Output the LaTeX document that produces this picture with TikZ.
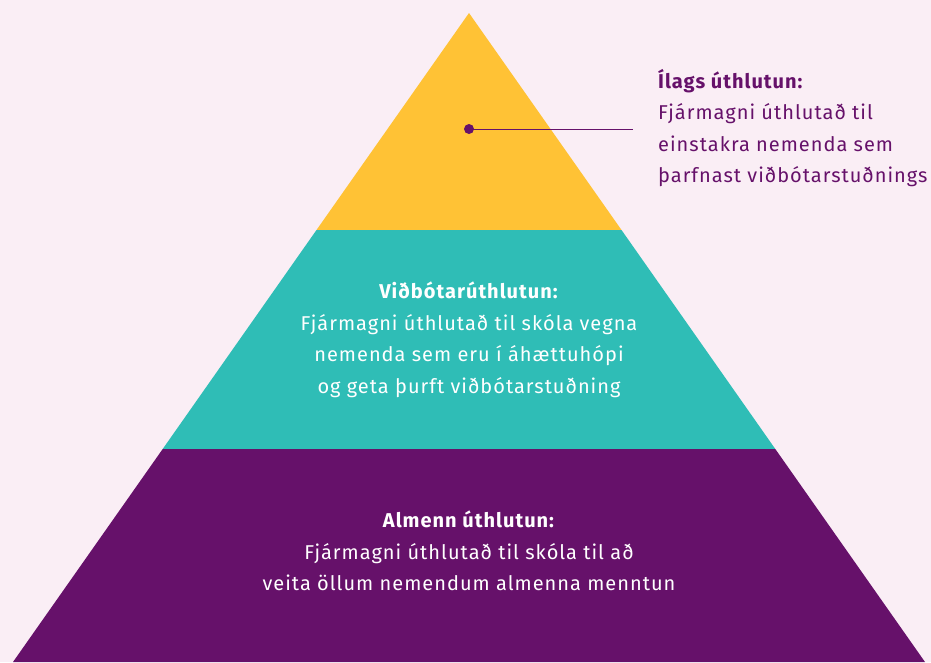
\documentclass[tikz,border=0pt]{standalone}
\usepackage{fontspec}
\setmainfont{Fira Sans}[LetterSpace=5]
\definecolor{bgpink}{HTML}{FAEEF5}
\definecolor{pyryellow}{HTML}{FFC235}
\definecolor{pyrteal}{HTML}{2FBDB6}
\definecolor{pyrpurple}{HTML}{66116A}
\begin{document}
\begin{tikzpicture}[
    x=1pt, y=-1pt,
    layer/.style={draw=none},
    body/.style={font=\fontsize{20}{31.5}\selectfont, align=center, inner sep=0pt},
    callout/.style={font=\fontsize{20}{31.5}\selectfont, align=left, inner sep=0pt, text=pyrpurple},
    pointer/.style={pyrpurple, line width=1pt},
]

% Background
\fill[bgpink] (0,0) rectangle (931,662);
\useasboundingbox (0,0) rectangle (931,662);

% Pyramid layers, top to bottom
\fill[layer, pyryellow] (469,13) -- (621.5,230) -- (316.5,230) -- cycle;
\fill[layer, pyrteal] (316.5,230) -- (621.5,230) -- (775.3,449) -- (162.7,449) -- cycle;
\fill[layer, pyrpurple] (162.7,449) -- (775.3,449) -- (925,662) -- (13,662) -- cycle;

% Texts inside the layers
\node[body, text=white] (extra) at (469,340)
    {\textbf{Viðbótarúthlutun:}\\Fjármagni úthlutað til skóla vegna\\nemenda sem eru í áhættuhópi\\og geta þurft viðbótarstuðning};
\node[body, text=white] (general) at (469,551)
    {\textbf{Almenn úthlutun:}\\Fjármagni úthlutað til skóla til að\\veita öllum nemendum almenna menntun};

% Callout for the top layer
\node[callout, anchor=west] (ilags) at (658,128)
    {\textbf{Ílags úthlutun:}\\Fjármagni úthlutað til\\einstakra nemenda sem\\þarfnast viðbótarstuðnings};
\coordinate (dot) at (469,129);
\coordinate (lineend) at (633,129);
\draw[pointer] (dot) -- (lineend);
\fill[pyrpurple] (dot) circle (5);

\end{tikzpicture}
\end{document}
